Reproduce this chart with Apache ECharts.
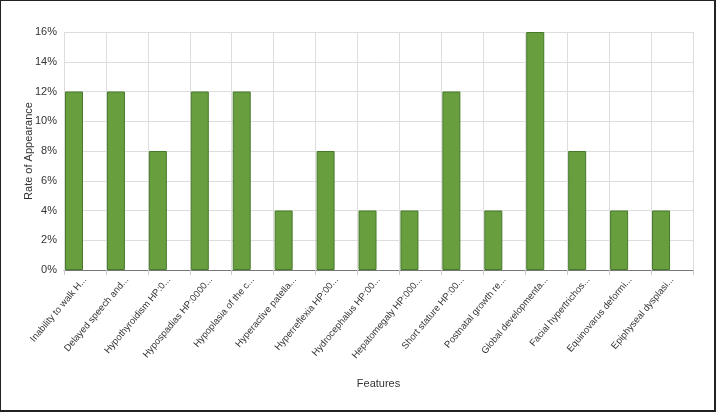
<!DOCTYPE html>
<html>
<head>
<meta charset="utf-8">
<script src="https://cdn.jsdelivr.net/npm/echarts@6/dist/echarts.min.js"></script>
<style>
  html, body { margin: 0; padding: 0; background: #fff; }
  #frame {
    width: 713px; height: 409px;
    border-left: 1px solid #222; border-top: 1px solid #222;
    border-right: 2px solid #222; border-bottom: 2px solid #222;
  }
  #main { width: 713px; height: 409px; }
</style>
</head>
<body>
<div id="frame"><div id="main"></div></div>
<script>
// categories (truncated labels as shown in the chart)
var features = [
  'Inability to walk H...',
  'Delayed speech and...',
  'Hypothyroidism HP:0...',
  'Hypospadias HP:0000...',
  'Hypoplasia of the c...',
  'Hyperactive patella...',
  'Hyperreflexia HP:00...',
  'Hydrocephalus HP:00...',
  'Hepatomegaly HP:000...',
  'Short stature HP:00...',
  'Postnatal growth re...',
  'Global developmenta...',
  'Facial hypertrichos...',
  'Equinovarus deformi...',
  'Epiphyseal dysplasi...'
];
// rate of appearance, percent
var rates = [12, 12, 8, 12, 12, 4, 8, 4, 4, 12, 4, 16, 8, 4, 4];
// empty slot so the bars sit at the left of each band
var spacer = features.map(function () { return null; });

var chart = echarts.init(document.getElementById('main'));
chart.setOption({
  animation: false,
  grid: { left: 63, right: 21, top: 31, bottom: 140 },
  xAxis: {
    type: 'category',
    data: features,
    name: 'Features',
    nameLocation: 'middle',
    nameGap: 108,
    nameTextStyle: { color: '#333', fontSize: 11, fontFamily: 'Arial, Liberation Sans' },
    axisLine: { lineStyle: { color: '#777' } },
    axisTick: { show: true, length: 5, lineStyle: { color: '#ccc' } },
    splitLine: { show: true, lineStyle: { color: '#ddd' } },
    axisLabel: {
      rotate: 50, interval: 0, margin: 8,
      color: '#333', fontSize: 9.5, fontFamily: 'Arial, Liberation Sans'
    }
  },
  yAxis: {
    type: 'value',
    min: 0, max: 16, interval: 2,
    name: 'Rate of Appearance',
    nameLocation: 'middle',
    nameGap: 30,
    nameMoveOverlap: false,
    nameTextStyle: { color: '#333', fontSize: 11, fontFamily: 'Arial, Liberation Sans' },
    axisLine: { show: false },
    axisTick: { show: false },
    splitLine: { lineStyle: { color: '#ddd' } },
    axisLabel: {
      formatter: '{value}%', color: '#333', fontSize: 11, margin: 7,
      fontFamily: 'Arial, Liberation Sans'
    }
  },
  series: [{
    type: 'bar',
    data: rates,
    barWidth: 18,
    barGap: '22%',
    itemStyle: { color: '#699e3f', borderColor: '#467a2b', borderWidth: 1 }
  }, {
    type: 'bar',
    data: spacer,
    barWidth: 18,
    silent: true
  }]
});
</script>
</body>
</html>
